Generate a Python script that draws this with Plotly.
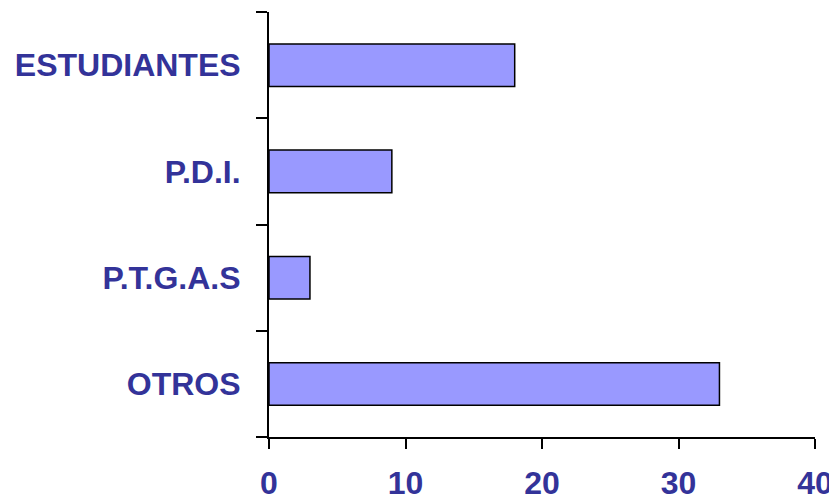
import plotly.graph_objects as go

# data
categories = ['ESTUDIANTES', 'P.D.I.', 'P.T.G.A.S', 'OTROS']
values = [18, 9, 3, 33]
x_ticks = [0, 10, 20, 30, 40]

text_color = '#333399'
bar_color = '#9999FF'
family = 'Liberation Sans, Arial, sans-serif'

fig = go.Figure()
fig.add_trace(go.Bar(
    x=values,
    y=categories,
    orientation='h',
    marker=dict(color=bar_color, line=dict(color='black', width=1.5)),
    width=0.4,
))

# the page body adds an 8px offset, so the figure is a bit smaller than the window
fig.update_layout(
    width=829,
    height=494,
    margin=dict(l=261, r=22, t=4, b=65),
    plot_bgcolor='white',
    paper_bgcolor='white',
    showlegend=False,
)

fig.update_xaxes(
    range=[0, 40],
    tickvals=x_ticks,
    ticks='outside',
    ticklen=10,
    tickwidth=2,
    tickcolor='black',
    showline=True,
    linecolor='black',
    linewidth=2,
    showgrid=False,
    zeroline=False,
    automargin=False,
    tickfont=dict(family=family, size=32, color=text_color, weight='bold'),
    ticklabelstandoff=7,
)

fig.update_yaxes(
    categoryorder='array',
    categoryarray=categories[::-1],
    tickson='boundaries',
    ticks='outside',
    ticklen=11,
    tickwidth=2,
    tickcolor='black',
    showline=True,
    linecolor='black',
    linewidth=2,
    showgrid=False,
    automargin=False,
    tickfont=dict(family=family, size=32, color=text_color, weight='bold'),
    ticklabelstandoff=20,
)

fig.write_html('out.html')
